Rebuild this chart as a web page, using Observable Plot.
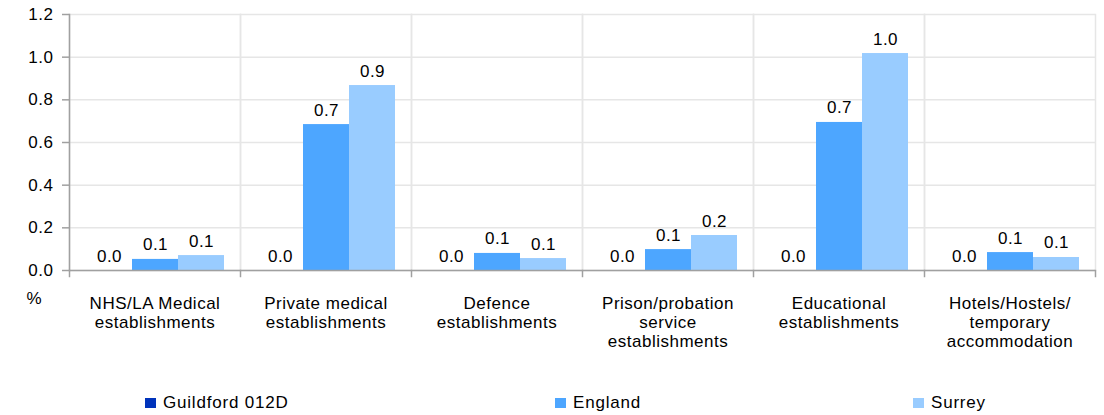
<!DOCTYPE html>
<html>
<head>
<meta charset="utf-8">
<script src="https://cdn.jsdelivr.net/npm/d3@7"></script>
<script src="https://cdn.jsdelivr.net/npm/@observablehq/plot@0.6"></script>
<style>
  html, body { margin: 0; padding: 0; background: #fff; }
  #wrap { position: relative; width: 1104px; height: 415px; font-family: "Liberation Sans", Arial, sans-serif; }
  #chart svg { display: block; }
  .leg { position: absolute; top: 393px; display: flex; align-items: center; font-size: 17px; letter-spacing: 0.8px; line-height: 20px; color: #000; }
  .sw { width: 11px; height: 10px; margin-right: 7px; }
</style>
</head>
<body>
<div id="wrap">
  <div id="chart"></div>
  <div id="legend"></div>
</div>
<script>
const categories = ["NHS/LA Medical", "Private medical", "Defence", "Prison/probation", "Educational", "Hotels/Hostels"];
const categoryLabels = [
  "NHS/LA Medical\nestablishments",
  "Private medical\nestablishments",
  "Defence\nestablishments",
  "Prison/probation\nservice\nestablishments",
  "Educational\nestablishments",
  "Hotels/Hostels/\ntemporary\naccommodation"
];
const series = ["Guildford 012D", "England", "Surrey"];
const guildford = [0, 0, 0, 0, 0, 0];
const england = [0.052, 0.684, 0.080, 0.098, 0.694, 0.084];
const surrey = [0.070, 0.867, 0.056, 0.164, 1.017, 0.061];
const colors = ["#0033bb", "#4da6ff", "#99ccff"];
const yTicks = [0, 0.2, 0.4, 0.6, 0.8, 1.0, 1.2];
const legendLeft = [145, 555, 913];

const seriesValues = [guildford, england, surrey];
const data = categories.flatMap((c, i) => series.map((s, j) => ({cat: c, series: s, value: seriesValues[j][i]})));
const labelOf = new Map(categories.map((c, i) => [c, categoryLabels[i]]));

const chart = Plot.plot({
  width: 1104,
  height: 385,
  marginLeft: 67,
  marginRight: 8,
  marginTop: 14,
  marginBottom: 115,
  style: {fontFamily: "'Liberation Sans', Arial, sans-serif", fontSize: "17px", letterSpacing: "0.5px", color: "#000", background: "#fff", overflow: "visible"},
  fx: {domain: categories, padding: 0, axis: null},
  x: {domain: series, paddingInner: 0, paddingOuter: 0.325, axis: null},
  y: {domain: [0, 1.2], axis: null},
  color: {domain: series, range: colors},
  marks: [
    Plot.gridY(yTicks, {stroke: "#e6e6e6", strokeOpacity: 1, strokeWidth: 1.5}),
    Plot.frame({anchor: "left", stroke: "#e6e6e6", strokeWidth: 1.5}),
    Plot.frame({anchor: "right", stroke: "#e6e6e6", strokeWidth: 1.5}),
    Plot.barY(data, {fx: "cat", x: "series", y: "value", fill: "series", inset: 0}),
    Plot.text(data, {fx: "cat", x: "series", y: "value", text: d => d.value.toFixed(1), lineAnchor: "bottom", dy: -9, fill: "#000", fontSize: 17}),
    Plot.axisY(yTicks, {tickFormat: d => d.toFixed(1), tickSize: 7, tickPadding: 9, stroke: "#a0a0a0", strokeWidth: 1.5, fill: "#000", label: null, fontSize: 17}),
    Plot.ruleY([0], {stroke: "#a0a0a0", strokeWidth: 1.5}),
    Plot.frame({anchor: "left", stroke: "#a0a0a0", strokeWidth: 1.5, facetAnchor: "left"}),
    Plot.frame({anchor: "left", stroke: "#a0a0a0", strokeWidth: 1.5, insetTop: 256, insetBottom: -6}),
    Plot.frame({anchor: "right", stroke: "#a0a0a0", strokeWidth: 1.5, insetTop: 256, insetBottom: -6, facetAnchor: "right"}),
    Plot.axisFx({anchor: "bottom", tickFormat: d => labelOf.get(d), tickSize: 0, tickPadding: 25, lineHeight: 1.12, label: null, fill: "#000", fontSize: 17}),
    Plot.text(["%"], {frameAnchor: "bottom-left", dx: -43, dy: 33, facetAnchor: "left", fill: "#000", fontSize: 17})
  ]
});
document.getElementById("chart").appendChild(chart);

const legend = document.getElementById("legend");
series.forEach((s, i) => {
  const item = document.createElement("div");
  item.className = "leg";
  item.style.left = legendLeft[i] + "px";
  const sw = document.createElement("span");
  sw.className = "sw";
  sw.style.background = colors[i];
  const t = document.createElement("span");
  t.textContent = s;
  item.appendChild(sw);
  item.appendChild(t);
  legend.appendChild(item);
});
</script>
</body>
</html>
